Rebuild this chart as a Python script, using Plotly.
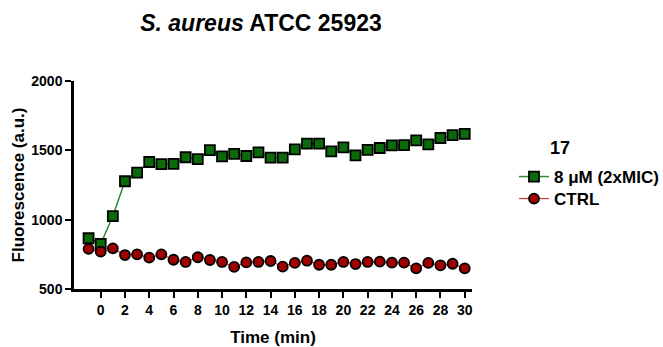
import plotly.graph_objects as go

# Time points (min)
time_min = list(range(-1, 31))

# Fluorescence (a.u.) for the treated culture, 8 µM (2xMIC)
treated = [866, 825, 1026, 1277, 1339, 1416, 1401, 1403, 1450, 1437,
           1502, 1457, 1475, 1459, 1485, 1447, 1447, 1507, 1548, 1548,
           1493, 1522, 1464, 1504, 1517, 1536, 1538, 1572, 1543, 1589,
           1610, 1618]

# Fluorescence (a.u.) for the untreated control
ctrl = [789, 769, 793, 745, 750, 726, 750, 711, 695, 729,
        709, 695, 659, 692, 695, 702, 661, 688, 704, 675,
        675, 695, 680, 695, 697, 690, 690, 649, 688, 671,
        682, 649]

x_ticks = list(range(0, 31, 2))
y_ticks = [500, 1000, 1500, 2000]

FONT = "Liberation Sans, Arial, sans-serif"
W, H = 663, 347
M_L, M_R, M_T, M_B = 74, 191, 81, 58
PLOT_W = W - M_L - M_R
PLOT_H = H - M_T - M_B


def px_x(px):
    """Horizontal pixel position -> paper coordinate."""
    return (px - M_L) / PLOT_W


def px_y(py):
    """Vertical pixel position (from top) -> paper coordinate."""
    return 1 - (py - M_T) / PLOT_H


fig = go.Figure()

fig.add_trace(go.Scatter(
    x=time_min, y=treated, mode="lines+markers", name="<b>8 μM (2xMIC)</b>",
    line=dict(color="#2e8b2e", width=1.5),
    marker=dict(symbol="square", size=10, color="#0b6b0b",
                line=dict(color="black", width=1.8)),
    legend="legend",
))

fig.add_trace(go.Scatter(
    x=time_min, y=ctrl, mode="lines+markers", name="<b>CTRL</b>",
    line=dict(color="#d03a3a", width=1.2),
    marker=dict(symbol="circle", size=10, color="#a00000",
                line=dict(color="black", width=1.8)),
    legend="legend2",
))

axis_common = dict(
    showline=True, linecolor="black", linewidth=2.5,
    ticks="outside", ticklen=6, tickwidth=2, tickcolor="black",
    showgrid=False, zeroline=False, mirror=False, automargin=False,
    tickfont=dict(family=FONT, size=14, color="black", weight="bold"),
)

fig.update_xaxes(
    range=[-2.2, 30.6], tickvals=x_ticks,
    title=dict(text="<b>Time (min)</b>", font=dict(family=FONT, size=17, color="black"),
               standoff=15),
    **axis_common,
)
fig.update_yaxes(
    range=[500, 2000], tickvals=y_ticks,
    title=dict(text="<b>Fluorescence (a.u.)</b>",
               font=dict(family=FONT, size=17, color="black"), standoff=3),
    **axis_common,
)

legend_common = dict(
    xanchor="left", yanchor="top",
    font=dict(family=FONT, size=17, color="black"),
    bgcolor="rgba(0,0,0,0)", borderwidth=0,
)

fig.update_layout(
    width=W, height=H,
    margin=dict(l=M_L, r=M_R, t=M_T, b=M_B, autoexpand=False),
    paper_bgcolor="white", plot_bgcolor="white",
    font=dict(family=FONT, color="black"),
    title=dict(text="<b><i>S. aureus</i> ATCC 25923</b>",
               font=dict(family=FONT, size=23, color="black"),
               x=261 / W, xref="container", xanchor="center",
               y=1 - 23 / H, yref="container", yanchor="middle"),
    showlegend=True,
    legend=dict(x=px_x(514), y=px_y(159), **legend_common),
    legend2=dict(x=px_x(514), y=px_y(181), **legend_common),
    annotations=[dict(text="<b>17</b>", x=px_x(560), y=px_y(148),
                      xref="paper", yref="paper", xanchor="center", yanchor="middle",
                      showarrow=False, font=dict(family=FONT, size=18, color="black"))],
)

fig.write_html("out.html")
